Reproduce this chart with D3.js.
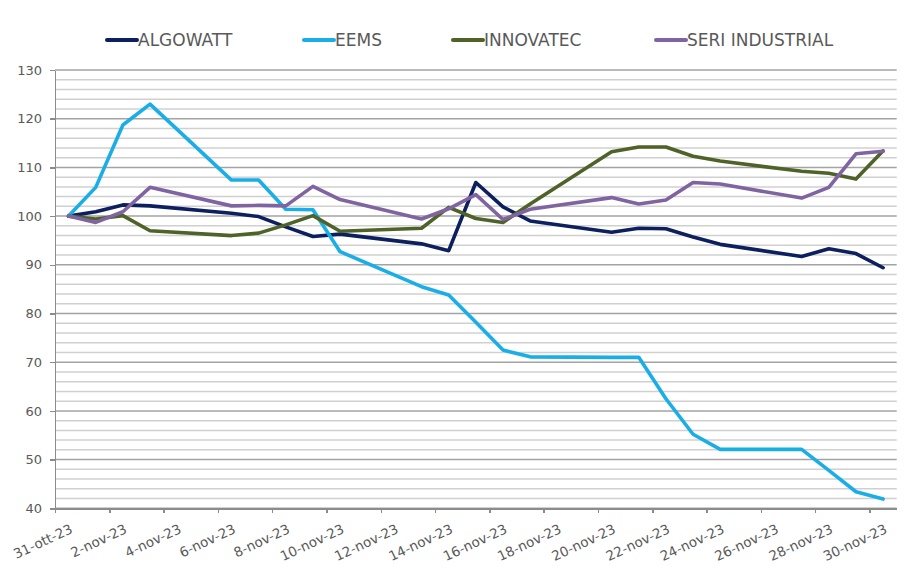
<!DOCTYPE html>
<html lang="it">
<head>
<meta charset="utf-8">
<script src="https://d3js.org/d3.v7.min.js"></script>
<style>
  body { margin: 0; background: #fff; }
  .axis path, .axis line { stroke: #8c8c8c; stroke-width: 1.5px; shape-rendering: crispEdges; }
  .axis text { fill: #595959; font-family: "DejaVu Sans", sans-serif; font-size: 13px; }
  .xlabel { fill: #595959; font-family: "DejaVu Sans", sans-serif; font-size: 13.5px; }
  .legend text { fill: #595959; font-family: "DejaVu Sans", sans-serif; font-size: 17px; }
</style>
</head>
<body>
<div id="chart"></div>
<script>
// trading days (weekends skipped)
const dates = ["2023-10-31","2023-11-01","2023-11-02","2023-11-03","2023-11-06","2023-11-07",
  "2023-11-08","2023-11-09","2023-11-10","2023-11-13","2023-11-14","2023-11-15","2023-11-16",
  "2023-11-17","2023-11-20","2023-11-21","2023-11-22","2023-11-23","2023-11-24","2023-11-27",
  "2023-11-28","2023-11-29","2023-11-30"];

const algowatt  = [100, 100.9, 102.3, 102.1, 100.6, 99.9, 97.8, 95.8, 96.3, 94.3, 92.9, 106.9,
  101.9, 99.0, 96.7, 97.5, 97.4, 95.7, 94.2, 91.7, 93.3, 92.3, 89.4];
const eems      = [100, 105.9, 118.7, 123.0, 107.4, 107.4, 101.4, 101.3, 92.7, 85.5, 83.8, 78.2,
  72.5, 71.1, 71.0, 71.0, 62.5, 55.2, 52.1, 52.1, 47.8, 43.4, 41.9];
const innovatec = [100, 99.4, 100.1, 97.0, 96.0, 96.5, 98.2, 100.1, 96.9, 97.5, 101.8, 99.5,
  98.7, 102.5, 113.2, 114.2, 114.2, 112.3, 111.3, 109.2, 108.8, 107.6, 113.4];
const seri      = [100, 98.7, 100.9, 105.9, 102.1, 102.2, 102.1, 106.1, 103.4, 99.4, 101.5, 104.4,
  99.3, 101.4, 103.8, 102.5, 103.3, 106.9, 106.6, 103.7, 105.9, 112.8, 113.3];

const seriesNames = ["ALGOWATT", "EEMS", "INNOVATEC", "SERI INDUSTRIAL"];
const seriesColors = ["#0c1f5e", "#1aaee6", "#4f6228", "#8064a2"];

const labelDates = ["2023-10-31","2023-11-02","2023-11-04","2023-11-06","2023-11-08","2023-11-10",
  "2023-11-12","2023-11-14","2023-11-16","2023-11-18","2023-11-20","2023-11-22","2023-11-24",
  "2023-11-26","2023-11-28","2023-11-30"];
const tickLabels = ["31-ott-23","2-nov-23","4-nov-23","6-nov-23","8-nov-23","10-nov-23",
  "12-nov-23","14-nov-23","16-nov-23","18-nov-23","20-nov-23","22-nov-23","24-nov-23",
  "26-nov-23","28-nov-23","30-nov-23"];

const yTicks = d3.range(40, 131, 10);
const yMinor = d3.range(40, 131, 2);

const W = 924, H = 581;
const plot = { left: 55, right: 896.7, top: 70, bottom: 508.3 };

const parse = d3.utcParse("%Y-%m-%d");
const halfDay = d => d3.utcHour.offset(d, -12);

const svg = d3.select("#chart").append("svg")
  .attr("width", W).attr("height", H);

const x = d3.scaleUtc()
  .domain([halfDay(parse("2023-10-31")), d3.utcHour.offset(parse("2023-11-30"), 12)])
  .range([plot.left, plot.right]);

const y = d3.scaleLinear().domain([40, 130]).range([plot.bottom, plot.top]);

// gridlines
svg.append("g").selectAll("line")
  .data(yMinor)
  .join("line")
  .attr("x1", plot.left).attr("x2", plot.right)
  .attr("y1", d => y(d)).attr("y2", d => y(d))
  .attr("stroke", d => d % 10 === 0 ? "#a3a3a3" : "#d0d0d0")
  .attr("stroke-width", 1.5);

// x axis (ticks between days)
svg.append("g")
  .attr("class", "axis")
  .attr("transform", `translate(0,${plot.bottom})`)
  .call(d3.axisBottom(x)
    .tickValues(labelDates.map(d => halfDay(parse(d))))
    .tickSize(5)
    .tickSizeOuter(0)
    .tickFormat(""));

svg.append("g").selectAll("text")
  .data(labelDates)
  .join("text")
  .attr("class", "xlabel")
  .attr("text-anchor", "end")
  .attr("transform", d => `translate(${x(parse(d)) + 5},${plot.bottom + 24}) rotate(-25)`)
  .text((d, i) => tickLabels[i]);

// y axis
svg.append("g")
  .attr("class", "axis")
  .attr("transform", `translate(${plot.left},0)`)
  .call(d3.axisLeft(y)
    .tickValues(yTicks)
    .tickSize(5)
    .tickSizeOuter(0)
    .tickPadding(8));

// lines
const allSeries = [algowatt, eems, innovatec, seri];
const line = d3.line()
  .x((d, i) => x(parse(dates[i])))
  .y(d => y(d));

svg.append("g").selectAll("path")
  .data(allSeries)
  .join("path")
  .attr("d", d => line(d))
  .attr("fill", "none")
  .attr("stroke", (d, i) => seriesColors[i])
  .attr("stroke-width", 3.6)
  .attr("stroke-linejoin", "round")
  .attr("stroke-linecap", "round");

// legend
const legendX = [107, 304, 453, 656];
const legend = svg.append("g").attr("class", "legend");
const item = legend.selectAll("g")
  .data(seriesNames)
  .join("g")
  .attr("transform", (d, i) => `translate(${legendX[i]},40)`);
item.append("line")
  .attr("x1", 0).attr("x2", 30)
  .attr("stroke", (d, i) => seriesColors[i])
  .attr("stroke-width", 4)
  .attr("stroke-linecap", "round");
item.append("text")
  .attr("x", 31)
  .attr("y", 6)
  .text(d => d);
</script>
</body>
</html>
